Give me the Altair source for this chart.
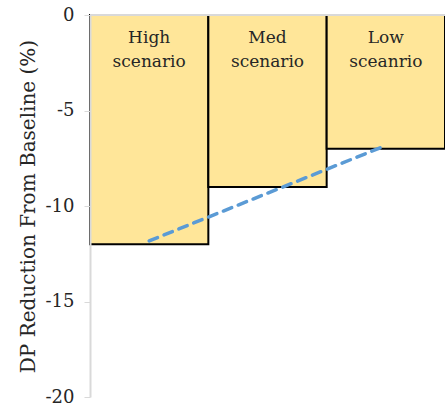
import altair as alt
import pandas as pd

# Scenario bars and their reductions from baseline (%)
scenarios = ["High\nscenario", "Med\nscenario", "Low\nsceanrio"]
reduction = [-12, -9, -7]
# Linear trend through the three scenarios
trend = [-11.83, -9.33, -6.83]

y_ticks = [0, -5, -10, -15, -20]

df = pd.DataFrame({"scenario": scenarios, "reduction": reduction, "trend": trend})

FONT = "DejaVu Serif"

x_enc = alt.X("scenario:N", sort=scenarios,
              scale=alt.Scale(paddingInner=0, paddingOuter=0), axis=None)
y_scale = alt.Scale(domain=[-20, 0], nice=False)

bars = alt.Chart(df).mark_bar(
    fill="#FFE699", stroke="#000000", strokeWidth=2
).encode(
    x=x_enc,
    y=alt.Y("reduction:Q", scale=y_scale,
            axis=alt.Axis(values=y_ticks, grid=False, title="DP Reduction From Baseline (%)",
                          labelExpr="'' + datum.value",
                          titleFont=FONT, titleFontSize=20, titleFontWeight="normal",
                          titleColor="#262626", titlePadding=7,
                          labelFont=FONT, labelFontSize=18, labelColor="#262626",
                          labelPadding=10, tickSize=6, tickColor="#D9D9D9",
                          domainColor="#D9D9D9", domainWidth=2, zindex=1)),
    y2=alt.datum(0),
)

zero_line = alt.Chart(df).mark_rule(color="#D9D9D9", strokeWidth=2).encode(
    y=alt.datum(0), x=alt.value(0), x2=alt.value(355)
)

labels = alt.Chart(df).mark_text(
    font=FONT, fontSize=17, color="#262626", baseline="top",
    lineBreak="\n", lineHeight=24, dy=15
).encode(
    x=alt.X("scenario:N", sort=scenarios),
    y=alt.datum(0),
    text="scenario:N",
)

trend_line = alt.Chart(df).mark_line(
    color="#5B9BD5", strokeWidth=3.5, strokeDash=[9, 7], strokeCap="round"
).encode(
    x=alt.X("scenario:N", sort=scenarios),
    y=alt.Y("trend:Q", scale=y_scale),
)

chart = alt.layer(bars, zero_line, trend_line, labels).properties(
    width=355, height=382,
    padding={"left": 90, "top": 15, "right": 0, "bottom": 11},
    autosize=alt.AutoSizeParams(type="none"),
).configure_view(stroke=None)

chart.save("out.html", embed_options={"renderer": "svg", "actions": False})
